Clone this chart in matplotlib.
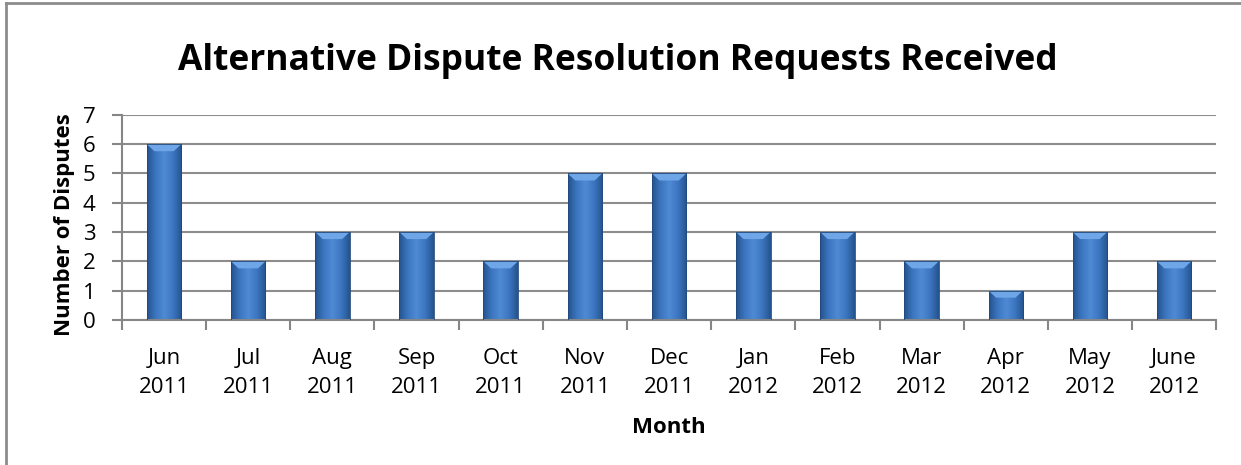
import matplotlib.pyplot as plt
import numpy as np
from matplotlib.colors import LinearSegmentedColormap
from matplotlib.patches import Polygon

months = ['Jun\n2011', 'Jul\n2011', 'Aug\n2011', 'Sep\n2011', 'Oct\n2011', 'Nov\n2011',
          'Dec\n2011', 'Jan\n2012', 'Feb\n2012', 'Mar\n2012', 'Apr\n2012', 'May\n2012',
          'June\n2012']
disputes = [6, 2, 3, 3, 2, 5, 5, 3, 3, 2, 1, 3, 2]

plt.rcParams['font.family'] = ['Open Sans', 'DejaVu Sans']

fig = plt.figure(figsize=(12.41, 4.65), dpi=100)
ax = fig.add_axes([0.0983, 0.312, 0.8817, 0.441])

# frame around the chart (left and top visible)
fig.add_artist(plt.Line2D([0.005, 0.005], [0, 0.994], transform=fig.transFigure,
                          color='#8c8c8c', lw=2))
fig.add_artist(plt.Line2D([0.005, 1.0], [0.994, 0.994], transform=fig.transFigure,
                          color='#8c8c8c', lw=2))

x = np.arange(len(months))
width = 0.41
bars = ax.bar(x, disputes, width=width, color='none', edgecolor='#23497a', lw=0.6, zorder=3)

cmap = LinearSegmentedColormap.from_list('bar', ['#24548f', '#3d76c0', '#4f8ad4',
                                                 '#3d76c0', '#24548f'])
grad = np.linspace(0, 1, 64).reshape(1, -1)
for b, v in zip(bars, disputes):
    x0 = b.get_x()
    w = b.get_width()
    im = ax.imshow(grad, cmap=cmap, aspect='auto', extent=[x0, x0 + w, 0, v],
                   zorder=2, interpolation='bicubic')
    im.set_clip_path(b)
    # bevel on top
    bh = 0.24
    inset = 0.09
    top = Polygon([[x0, v], [x0 + w, v], [x0 + w - inset, v - bh], [x0 + inset, v - bh]],
                  closed=True, facecolor='#6ea6e8', edgecolor='none', zorder=2.5)
    ax.add_patch(top)

ax.set_xlim(-0.5, len(months) - 0.5)
ax.set_ylim(0, 7)
ax.set_yticks(range(0, 8))
ax.set_xticks(x)
ax.set_xticklabels(months, fontsize=16, linespacing=1.55)
ax.set_xticks(np.arange(-0.5, len(months), 1), minor=True)
ax.tick_params(axis='x', which='major', length=0, pad=20)
ax.tick_params(axis='x', which='minor', length=7, color='#868686', width=1.5)
ax.tick_params(axis='y', length=7, color='#868686', width=1.5, labelsize=16, pad=12)

ax.grid(axis='y', color='#8c8c8c', lw=1.5, zorder=0)
ax.set_axisbelow(True)
for s in ['top', 'right']:
    ax.spines[s].set_visible(False)
for s in ['left', 'bottom']:
    ax.spines[s].set_color('#868686')
    ax.spines[s].set_linewidth(1.5)

ax.set_ylabel('Number of Disputes', fontsize=16, fontweight='bold')
ax.yaxis.set_label_coords(-0.043, 0.463)
ax.set_xlabel('Month', fontsize=16, fontweight='bold', labelpad=13)
fig.text(0.498, 0.849, 'Alternative Dispute Resolution Requests Received',
         ha='center', va='baseline', fontsize=25.5, fontweight='bold')

fig.savefig('out.png', dpi=100)
